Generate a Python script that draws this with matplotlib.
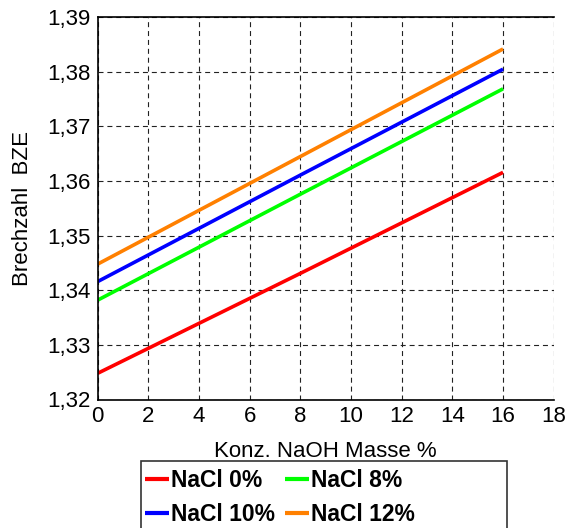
import matplotlib
matplotlib.use("Agg")
import matplotlib.pyplot as plt
from matplotlib.patches import Rectangle
from matplotlib.ticker import FuncFormatter

plt.rcParams['font.family'] = ['Liberation Sans', 'DejaVu Sans']

# data
naoh = [0, 8, 16]
nacl_0 = [1.3248, 1.3431, 1.3616]
nacl_8 = [1.3382, 1.3576, 1.3769]
nacl_10 = [1.3416, 1.3611, 1.3805]
nacl_12 = [1.3448, 1.3645, 1.3842]
labels = ['NaCl 0%', 'NaCl 8%', 'NaCl 10%', 'NaCl 12%']
colors = ['#ff0000', '#00ff00', '#0000ff', '#ff8000']

W, H = 567, 528
fig = plt.figure(figsize=(W / 100, H / 100), dpi=100)
ax = fig.add_axes([97.7 / W, 1 - 399.5 / H, (553.7 - 97.7) / W, (399.5 - 17.3) / H])

lines = []
for vals, lab, col in zip([nacl_0, nacl_8, nacl_10, nacl_12], labels, colors):
    ln, = ax.plot(naoh, vals, color=col, lw=2.6, label=lab, solid_capstyle='butt')
    lines.append(ln)

ax.set_xlim(0, 18)
ax.set_ylim(1.32, 1.39)
ax.set_xticks(range(0, 19, 2))
ax.set_yticks([1.32, 1.33, 1.34, 1.35, 1.36, 1.37, 1.38, 1.39])
ax.yaxis.set_major_formatter(FuncFormatter(lambda v, p: ("%.2f" % v).replace(".", ",")))
ax.tick_params(direction='in', length=0, labelsize=16)
ax.tick_params(axis='x', pad=5)
ax.tick_params(axis='y', pad=5)
ax.grid(True, color='#222222', linestyle=(0, (4.5, 3.5)), lw=0.8)
ax.spines['right'].set_visible(False)
for s in ['left', 'bottom', 'top']:
    ax.spines[s].set_linewidth(1.2)

ax.set_xlabel("Konz. NaOH Masse %", fontsize=16, labelpad=10)
ax.set_ylabel("Brechzahl  BZE", fontsize=16, labelpad=10)

# legend box is wider than its entries and runs off the bottom
fig.patches.append(Rectangle((140.7 / W, -0.05), (507 - 140.7) / W, 0.05 + 1 - 460.7 / H,
                             transform=fig.transFigure, fill=False, edgecolor='#333333',
                             lw=1.2))
order = [lines[0], lines[2], lines[1], lines[3]]
leg = fig.legend(order, [l.get_label() for l in order], ncol=2, loc='upper left',
                 bbox_to_anchor=(145 / W, 1 - 469 / H), frameon=False,
                 prop={'weight': 'bold', 'size': 16.5}, handlelength=1.05,
                 handletextpad=0.1, columnspacing=0.4, borderpad=0,
                 labelspacing=0.5, borderaxespad=0)
for h in leg.legend_handles:
    h.set_linewidth(3)

fig.savefig("out.png", dpi=100)
